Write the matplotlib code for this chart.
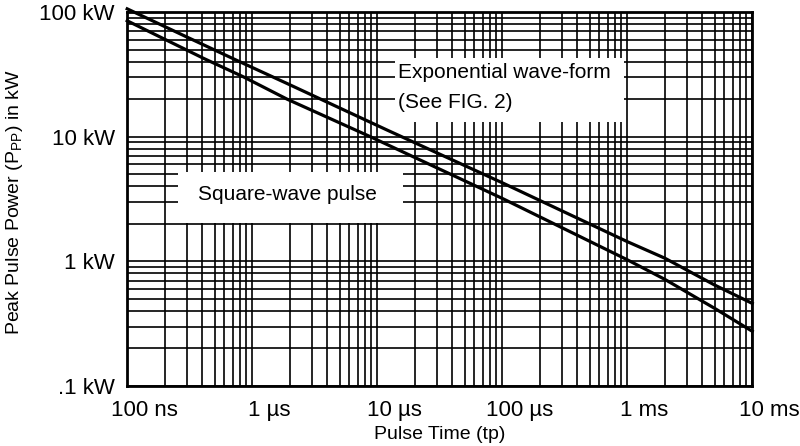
import numpy as np
import matplotlib.pyplot as plt
from matplotlib.patches import Rectangle
from matplotlib.ticker import LogLocator, NullFormatter
from matplotlib.transforms import ScaledTranslation

plt.rcParams['font.family'] = ['Liberation Sans', 'DejaVu Sans']

# valores (tiempo en s, potencia en kW)
tiempo_exp = [1e-7, 3e-7, 7.5e-7, 1.9e-6, 1.2e-5, 1e-4, 1e-3, 2e-3, 5e-3, 1e-2]
potencia_exp = [106, 63, 41, 26.7, 11.3, 4.27, 1.44, 1.06, 0.646, 0.46]
tiempo_cuad = [1e-7, 4.1e-7, 8.5e-7, 1.9e-6, 8.8e-6, 1e-4, 1e-3, 2e-3, 5e-3, 1e-2]
potencia_cuad = [85, 42.4, 30.2, 20, 10, 3.2, 1.03, 0.717, 0.42, 0.275]

x_ticks = [1e-7, 1e-6, 1e-5, 1e-4, 1e-3, 1e-2]
x_labels = ["100 ns", "1 µs", "10 µs", "100 µs", "1 ms", "10 ms"]
y_ticks = [0.1, 1, 10, 100]
y_labels = [".1 kW", "1 kW", "10 kW", "100 kW"]

fig = plt.figure(figsize=(8, 4.46), dpi=100)
ax = fig.add_axes([0.159, 0.1345, 0.78125, 0.8386])

ax.set_xscale('log')
ax.set_yscale('log')
ax.set_xlim(1e-7, 1e-2)
ax.set_ylim(0.1, 100)

ax.xaxis.set_minor_locator(LogLocator(base=10, subs=np.arange(2, 10)))
ax.yaxis.set_minor_locator(LogLocator(base=10, subs=np.arange(2, 10)))
ax.xaxis.set_minor_formatter(NullFormatter())
ax.yaxis.set_minor_formatter(NullFormatter())
ax.grid(True, which='both', color='black', linewidth=1.2)
ax.tick_params(which='both', length=0)
ax.tick_params(axis='x', pad=10)
ax.tick_params(axis='y', pad=9)

ax.set_xticks(x_ticks)
ax.set_xticklabels(x_labels, fontsize=16)
ax.set_yticks(y_ticks)
ax.set_yticklabels(y_labels, fontsize=16)

# etiquetas del eje x corridas a la derecha como en la original
desplazamiento = ScaledTranslation(0.17, 0, fig.dpi_scale_trans)
for etiqueta in ax.get_xticklabels():
    etiqueta.set_transform(etiqueta.get_transform() + desplazamiento)

for spine in ax.spines.values():
    spine.set_linewidth(2)

ax.plot(tiempo_exp, potencia_exp, color='black', linewidth=2.3, zorder=4, clip_on=False)
ax.plot(tiempo_cuad, potencia_cuad, color='black', linewidth=2.3, zorder=4, clip_on=False)

# cajas blancas de las leyendas
ax.add_patch(Rectangle((0.4288, 0.706), 0.3664, 0.171, transform=ax.transAxes,
                       facecolor='white', edgecolor='none', zorder=3))
ax.text(0.4336, 0.837, "Exponential wave-form", transform=ax.transAxes,
        fontsize=15, ha='left', va='center', zorder=5)
ax.text(0.4336, 0.757, "(See FIG. 2)", transform=ax.transAxes,
        fontsize=15, ha='left', va='center', zorder=5)

ax.add_patch(Rectangle((0.0816, 0.436), 0.36, 0.136, transform=ax.transAxes,
                       facecolor='white', edgecolor='none', zorder=3))
ax.text(0.257, 0.513, "Square-wave pulse", transform=ax.transAxes,
        fontsize=15, ha='center', va='center', zorder=5)

ax.set_xlabel("Pulse Time (tp)", fontsize=14, labelpad=4)
ax.set_ylabel(r"Peak Pulse Power (P$_{\mathregular{PP}}$) in kW", fontsize=14)
ax.yaxis.set_label_coords(-0.163, 0.492)

plt.savefig("out.png", dpi=100)
